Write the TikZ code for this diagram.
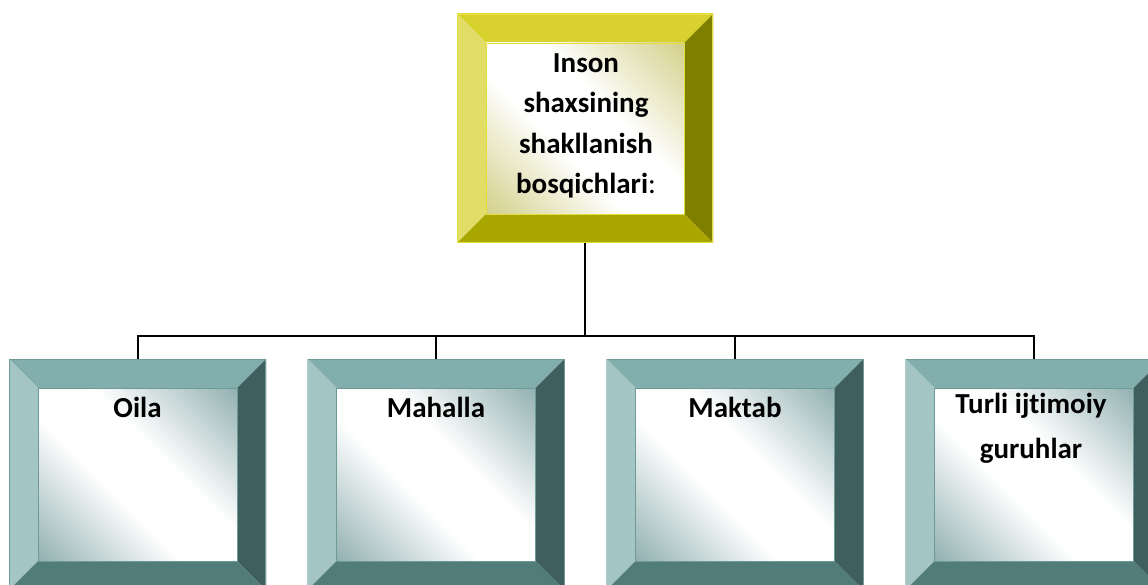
\documentclass[tikz,border=0pt]{standalone}
\usepackage{fontspec}
\setmainfont[Ligatures=NoCommon]{Carlito}
\definecolor{ytop}{HTML}{D8D12E}
\definecolor{yleft}{HTML}{E1DD66}
\definecolor{yright}{HTML}{7F7F00}
\definecolor{ybot}{HTML}{AAA600}
\definecolor{yface}{HTML}{CFCC80}
\definecolor{yedge}{HTML}{E4DE3A}
\definecolor{ttop}{HTML}{82AEAD}
\definecolor{tleft}{HTML}{A3C5C4}
\definecolor{tright}{HTML}{3F5F5E}
\definecolor{tbot}{HTML}{527C7A}
\definecolor{tface}{HTML}{88A9A9}
\definecolor{tedge}{HTML}{6E9A98}
\pgfdeclarehorizontalshading{yshade}{100bp}{color(0bp)=(yface); color(12bp)=(yface); color(42bp)=(white); color(58bp)=(white); color(88bp)=(yface); color(100bp)=(yface)}
\pgfdeclarehorizontalshading{tshade}{100bp}{color(0bp)=(tface); color(12bp)=(tface); color(42bp)=(white); color(58bp)=(white); color(88bp)=(tface); color(100bp)=(tface)}
\tikzset{
  bevelbox/.style n args={6}{
    minimum width=257pt, minimum height=231pt, inner sep=0pt, draw=none,
    path picture={
      \path (path picture bounding box.north west) coordinate (pnw)
            (path picture bounding box.south east) coordinate (pse)
            (pnw -| pse) coordinate (pne)
            (pnw |- pse) coordinate (psw)
            ([xshift=29pt,yshift=-29pt]pnw) coordinate (inw)
            ([xshift=-29pt,yshift=29pt]pse) coordinate (ise)
            (inw -| ise) coordinate (ine)
            (inw |- ise) coordinate (isw);
      \fill[#1] (pnw) -- (pne) -- (ine) -- (inw) -- cycle;
      \fill[#2] (pnw) -- (inw) -- (isw) -- (psw) -- cycle;
      \fill[#3] (pne) -- (pse) -- (ise) -- (ine) -- cycle;
      \fill[#4] (psw) -- (isw) -- (ise) -- (pse) -- cycle;
      \shade[shading=#5, shading angle=45] (inw) rectangle (ise);
      \draw[#6, line width=0.8pt] (inw) rectangle (ise);
      \draw[#6, line width=1.2pt] (pnw) rectangle (pse);
    }},
  ybox/.style={bevelbox={ytop}{yleft}{yright}{ybot}{yshade}{yedge}, minimum height=229pt, minimum width=256pt},
  tbox/.style={bevelbox={ttop}{tleft}{tright}{tbot}{tshade}{tedge}},
  lbl/.style={font=\bfseries\fontsize{29}{40.6}\selectfont, align=center, inner sep=0pt, anchor=north},
  conn/.style={line width=2pt, black}
}
\begin{document}
\begin{tikzpicture}[x=1pt,y=-1pt]
\useasboundingbox (0,0) rectangle (1148,585);
\clip (0,0) rectangle (1148,585);
\fill[white] (0,0) rectangle (1148,585);
\node[ybox] (top) at (585,128.5) {};
\node[tbox] (b1) at (137.5,474.5) {};
\node[tbox] (b2) at (436,474.5) {};
\node[tbox] (b3) at (735,474.5) {};
\node[tbox] (b4) at (1034,474.5) {};
\node[lbl] (ttop) at (586,48) {\rule{0pt}{24pt}Inson\\shaxsining\\shakllanish\\bosqichlari{\mdseries:}};
\node[lbl] (t1) at (137.5,393) {\rule{0pt}{24pt}Oila};
\node[lbl] (t2) at (436,393) {\rule{0pt}{24pt}Mahalla};
\node[lbl] (t3) at (735,393) {\rule{0pt}{24pt}Maktab};
\node[lbl, font=\bfseries\fontsize{29}{45}\selectfont] (t4) at (1031,389) {\rule{0pt}{24pt}Turli ijtimoiy\\guruhlar};
\coordinate (bus) at (585,336);
\draw[conn] (top.south) -- (bus);
\draw[conn] (b1.north) -- (b1.north |- bus) -- (b4.north |- bus) -- (b4.north);
\draw[conn] (b2.north) -- (b2.north |- bus);
\draw[conn] (b3.north) -- (b3.north |- bus);
\end{tikzpicture}
\end{document}
